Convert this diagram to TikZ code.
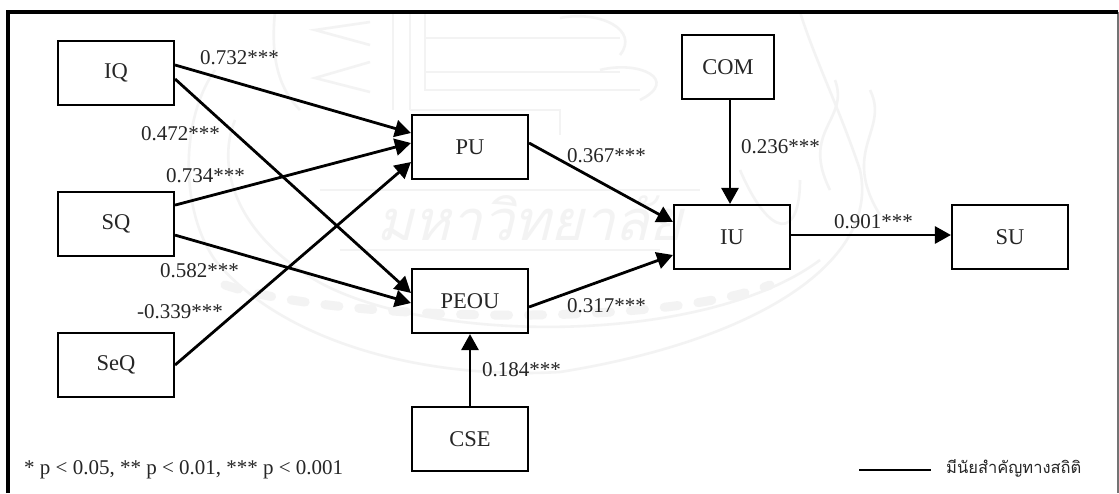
\documentclass[tikz,border=0pt]{standalone}
\usepackage{fontspec}
\setmainfont{Liberation Serif}
\newfontfamily\thaifont[Script=Thai]{Loma}
\usetikzlibrary{arrows.meta}
\definecolor{seal}{HTML}{F3F3F3}
\tikzset{
  latent/.style={draw=black,line width=2.1pt,minimum width=116pt,minimum height=64pt,inner sep=0pt,font=\fontsize{22.5}{26}\selectfont,text=black!85},
  path/.style={draw=black,line width=2.8pt,-{Triangle[length=16pt,width=17pt]}},
  coef/.style={inner sep=0pt,anchor=west,font=\fontsize{21}{25}\selectfont,text=black!85},
  frameline/.style={draw=black,line width=3.2pt},
  sealline/.style={draw=seal,line width=2.6pt},
}
\begin{document}
\begin{tikzpicture}[x=1pt,y=-1pt]
\useasboundingbox (0,0) rectangle (1119,493);
\fill[white] (0,0) rectangle (1119,493);
% faint seal behind the diagram
\draw[sealline] (275,12) .. controls (270,60) and (280,90) .. (300,110);
\draw[sealline] (800,12) .. controls (815,60) and (840,110) .. (860,170) .. controls (880,260) and (760,340) .. (560,372) .. controls (420,380) and (280,340) .. (215,260) .. controls (180,210) and (180,120) .. (215,70);
\draw[sealline] (235,120) .. controls (215,170) and (240,230) .. (300,270) .. controls (400,345) and (700,350) .. (820,260);
\draw[sealline] (393,12) -- (393,110) (410,12) -- (410,110) (425,12) -- (425,90) -- (640,90);
\draw[sealline] (425,38) -- (620,38) (425,72) -- (620,72) (410,110) -- (560,110) -- (560,135);
\draw[sealline] (370,22) -- (315,30) -- (370,45) (370,62) -- (315,78) -- (370,92);
\draw[sealline] (560,18) .. controls (600,10) and (640,30) .. (620,55) (600,70) .. controls (640,60) and (680,80) .. (640,100);
\draw[sealline] (835,80) .. controls (850,120) and (800,130) .. (830,190) (870,90) .. controls (890,130) and (840,150) .. (880,215);
\draw[sealline] (740,170) .. controls (770,240) and (800,240) .. (800,180);
\draw[sealline] (320,190) -- (700,190) (340,250) -- (660,250);
\draw[draw=seal,line width=9pt,line cap=round,dash pattern=on 14pt off 20pt] (225,285) .. controls (330,320) and (650,330) .. (770,285);
\node[inner sep=0pt,text=seal,xslant=0.25] (sealone) at (535,218) {\thaifont\fontsize{56}{64}\selectfont มหาวิทยาลัย};
% frame
\coordinate (fbl) at (8,493);
\coordinate (ftl) at (8,12);
\coordinate (ftr) at (1118,12);
\coordinate (fbr) at (1118,493);
\draw[draw=black!55,line width=1.2pt] (ftr) -- (fbr);
\draw[frameline] (fbl) -- (ftl) -- (ftr);
% boxes
\node[latent] (IQ) at (116,73) {IQ};
\node[latent] (SQ) at (116,223.6) {SQ};
\node[latent] (SeQ) at (116,365) {SeQ};
\node[latent] (PU) at (470,147) {PU};
\node[latent] (PEOU) at (470,301) {PEOU};
\node[latent] (CSE) at (470,439) {CSE};
\node[latent,minimum width=92pt] (COM) at (728,67) {COM};
\node[latent] (IU) at (732,237) {IU};
\node[latent] (SU) at (1010,237) {SU};
% connectors
\draw[path] ([yshift=8pt]IQ.east) -- ([yshift=14pt]PU.west);
\draw[path] ([yshift=-6pt]IQ.east) -- ([yshift=8pt]PEOU.west);
\draw[path] ([yshift=18.5pt]SQ.east) -- ([yshift=4pt]PU.west);
\draw[path] ([yshift=-11.5pt]SQ.east) -- ([yshift=-2pt]PEOU.west);
\draw[path] (SeQ.east) -- ([yshift=-15pt]PU.west);
\draw[path] ([yshift=4pt]PU.east) -- ([yshift=15pt]IU.west);
\draw[path] ([yshift=-6pt]PEOU.east) -- ([yshift=-18pt]IU.west);
\draw[path] ([xshift=2pt]COM.south) -- ([xshift=-2pt]IU.north);
\draw[path] (CSE.north) -- (PEOU.south);
\draw[path] ([yshift=2pt]IU.east) -- ([yshift=2pt]SU.west);
% coefficients
\node[coef] (c1) at (200,58) {0.732***};
\node[coef] (c2) at (141,134) {0.472***};
\node[coef] (c3) at (166,176) {0.734***};
\node[coef] (c4) at (160,271) {0.582***};
\node[coef] (c5) at (137,312) {-0.339***};
\node[coef] (c6) at (482,370) {0.184***};
\node[coef] (c7) at (567,156) {0.367***};
\node[coef] (c8) at (741,147) {0.236***};
\node[coef] (c9) at (567,306) {0.317***};
\node[coef] (c10) at (834,222) {0.901***};
% legend
\node[coef] (note) at (24,470) {* p < 0.05, ** p < 0.01, *** p < 0.001};
\coordinate (l1) at (859,470);
\coordinate (l2) at (931,470);
\draw[draw=black,line width=1.8pt] (l1) -- (l2);
\node[inner sep=0pt,anchor=west,text=black!85] (thai) at (946,468) {\thaifont\fontsize{16.5}{18}\selectfont มีนัยสำคัญทางสถิติ};
\end{tikzpicture}
\end{document}
